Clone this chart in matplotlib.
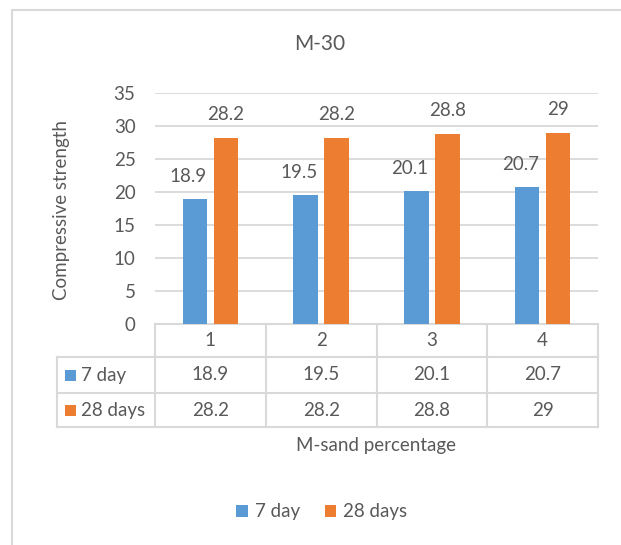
import matplotlib

matplotlib.use("Agg")
import matplotlib.pyplot as plt
from matplotlib.patches import Patch, Rectangle
from matplotlib.transforms import blended_transform_factory
import numpy as np

# chart data
categories = ["1", "2", "3", "4"]
series_names = ["7 day", "28 days"]
day7 = [18.9, 19.5, 20.1, 20.7]
day28 = [28.2, 28.2, 28.8, 29]
y_ticks = [0, 5, 10, 15, 20, 25, 30, 35]

BLUE = "#5B9BD5"
ORANGE = "#ED7D31"
TEXT = "#595959"
GRID = "#D9D9D9"
FONT = "Lato"
FS = 13.5

W, H = 621, 545
fig = plt.figure(figsize=(W / 100, H / 100), dpi=100)
plt.rcParams["font.family"] = FONT

# plot area in pixels -> figure fraction
left, right, top, bottom = 155, 598, 93, 324
ax = fig.add_axes([left / W, 1 - bottom / H, (right - left) / W, (bottom - top) / H])

# outer chart frame (only top/left visible in the picture)
fig.patches.append(Rectangle((12 / W, -0.1), 1.2, 1 - 10 / H + 0.1, transform=fig.transFigure,
                             fill=False, edgecolor="#D9D9D9", linewidth=1.5))

x = np.arange(len(categories)) + 0.5
bw = 0.22
off = 0.14
ax.bar(x - off, day7, bw, color=BLUE, zorder=3)
ax.bar(x + off, day28, bw, color=ORANGE, zorder=3)

for xi, v in zip(x - off, day7):
    ax.annotate(f"{v:g}", (xi + bw / 2, v), xytext=(0, 10.5), textcoords="offset points",
                ha="right", va="bottom", fontsize=FS, color=TEXT)
for xi, v in zip(x + off, day28):
    ax.annotate(f"{v:g}", (xi, v), xytext=(0, 10.5), textcoords="offset points",
                ha="center", va="bottom", fontsize=FS, color=TEXT)

ax.set_xlim(0, len(categories))
ax.set_ylim(0, 35)
ax.set_yticks(y_ticks)
ax.set_yticklabels([str(t) for t in y_ticks], fontsize=FS, color=TEXT)
ax.tick_params(axis="y", length=0, pad=14)
ax.set_xticks([])
ax.grid(axis="y", color=GRID, linewidth=1.3, zorder=0)
for s in ["top", "right", "left"]:
    ax.spines[s].set_visible(False)
ax.spines["bottom"].set_color(GRID)
ax.spines["bottom"].set_linewidth(1.5)

# data table below the axis
tr = blended_transform_factory(ax.transData, ax.transAxes)
px = (bottom - top)  # axes height in px
cw = (right - left) / len(categories)  # category width in px
row_y = [0, -(357 - bottom) / px, -(393 - bottom) / px, -(427 - bottom) / px]
label_x = (57 - left) / cw
line_kw = dict(color=GRID, linewidth=1.5, transform=tr, clip_on=False)

for i in range(len(categories) + 1):
    ax.plot([i, i], [0, row_y[3]], **line_kw)
ax.plot([label_x, label_x], [row_y[1], row_y[3]], **line_kw)
for yy in row_y[1:]:
    ax.plot([label_x, len(categories)], [yy, yy], **line_kw)

for xi, c in zip(x, categories):
    ax.text(xi, (row_y[0] + row_y[1]) / 2, c, ha="center", va="center",
            fontsize=FS, color=TEXT, transform=tr)

for r, (name, vals, col) in enumerate([(series_names[0], day7, BLUE), (series_names[1], day28, ORANGE)]):
    yc = (row_y[r + 1] + row_y[r + 2]) / 2
    for xi, v in zip(x, vals):
        ax.text(xi, yc, f"{v:g}", ha="center", va="center", fontsize=FS, color=TEXT, transform=tr)
    ax.add_patch(Rectangle((label_x + 8 / cw, yc - 5.5 / px), 11 / cw, 11 / px, transform=tr,
                           facecolor=col, clip_on=False))
    ax.text(label_x + 24 / cw, yc, name, ha="left", va="center", fontsize=FS, color=TEXT, transform=tr)

fig.text(320 / W, 1 - 44 / H, "M-30", ha="center", va="center", fontsize=15, color=TEXT)
fig.text(62 / W, 1 - 210 / H, "Compressive strength", ha="center", va="center",
         rotation=90, fontsize=FS, color=TEXT)
fig.text(376 / W, 1 - 446 / H, "M-sand percentage", ha="center", va="center",
         fontsize=FS, color=TEXT)

handles = [Patch(facecolor=BLUE), Patch(facecolor=ORANGE)]
fig.legend(handles, series_names, loc="center", bbox_to_anchor=(322 / W, 1 - 512 / H),
           ncol=2, frameon=False, fontsize=FS, labelcolor=TEXT,
           handlelength=0.6, handleheight=0.6, handletextpad=0.4, columnspacing=1.3)

fig.savefig("out.png", dpi=100, facecolor="white")
